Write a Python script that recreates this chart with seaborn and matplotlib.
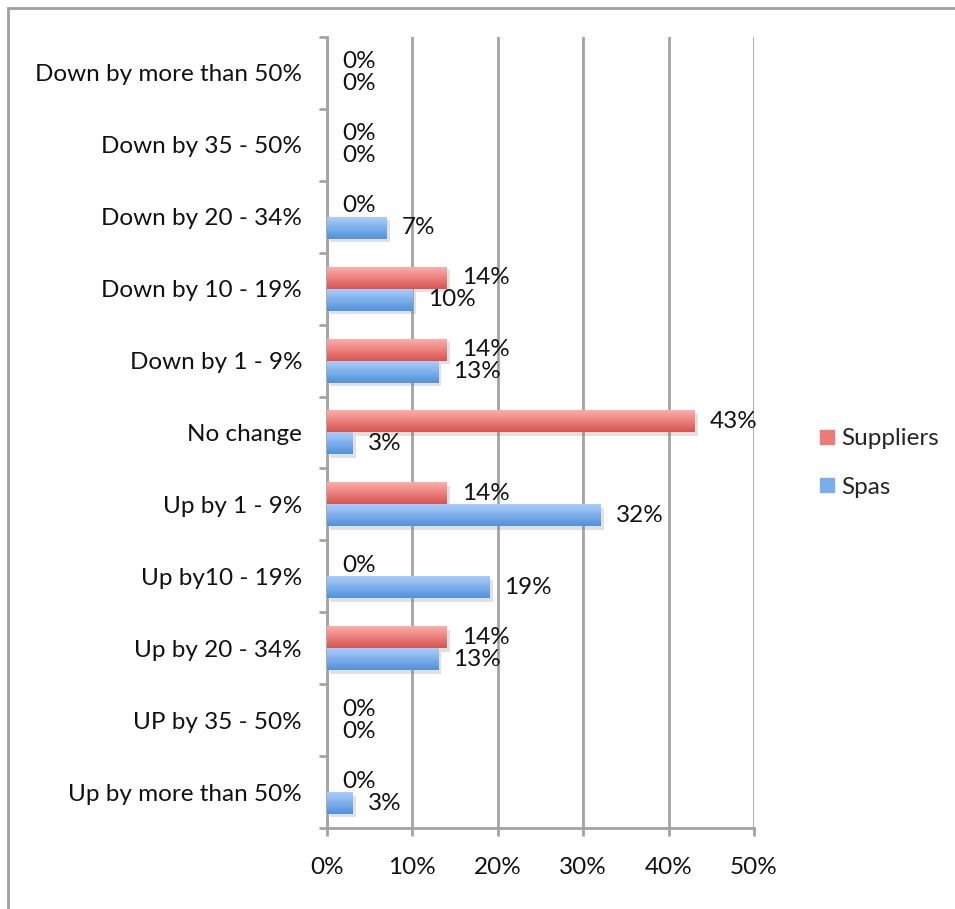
import numpy as np
import pandas as pd
import matplotlib
matplotlib.use("Agg")
import matplotlib.pyplot as plt
import matplotlib.patheffects as pe
from matplotlib.colors import LinearSegmentedColormap
from matplotlib.patches import Rectangle
from matplotlib.lines import Line2D
import seaborn as sns

categories = [
    "Down by more than 50%", "Down by 35 - 50%", "Down by 20 - 34%",
    "Down by 10 - 19%", "Down by 1 - 9%", "No change", "Up by 1 - 9%",
    "Up by10 - 19%", "Up by 20 - 34%", "UP by 35 - 50%", "Up by more than 50%",
]
suppliers = [0, 0, 0, 14, 14, 43, 14, 0, 14, 0, 0]
spas = [0, 0, 7, 10, 13, 3, 32, 19, 13, 0, 3]
series_names = ["Suppliers", "Spas"]
x_ticks = [0, 10, 20, 30, 40, 50]

df = pd.DataFrame({
    "category": categories * 2,
    "series": [series_names[0]] * len(categories) + [series_names[1]] * len(categories),
    "value": suppliers + spas,
})

sns.set_theme(style="white")
plt.rcParams["font.family"] = ["Lato", "DejaVu Sans"]
FS = 17.5

grad = {
    "Suppliers": ("#fbaeab", "#d9534e"),
    "Spas": ("#abcdfa", "#5092dc"),
}
mid = {"Suppliers": "#ec7a76", "Spas": "#79aeea"}

fig = plt.figure(figsize=(9.55, 9.09), dpi=100)
ax = fig.add_axes([327 / 955, 1 - 828 / 909, (754 - 327) / 955, (828 - 37) / 909])

sns.barplot(data=df, x="value", y="category", hue="series", order=categories,
            hue_order=series_names, palette=mid, orient="h", width=0.61,
            gap=0, saturation=1, ax=ax, legend=False, zorder=3, linewidth=0)

ax.set_xlim(0, 50)
ax.set_ylim(len(categories) - 0.5, -0.5)

# gradient fill + soft shadow on each bar
for container, name in zip(ax.containers, series_names):
    cmap = LinearSegmentedColormap.from_list(name, grad[name])
    g = np.linspace(0, 1, 64).reshape(-1, 1)
    for bar in container:
        x0, y0 = bar.get_x(), bar.get_y()
        w, h = bar.get_width(), bar.get_height()
        if w > 0:
            bar.set_path_effects([pe.SimplePatchShadow(offset=(2.5, -2.5), alpha=0.22,
                                                       shadow_rgbFace="#777777"),
                                  pe.Normal()])
            ax.imshow(g, cmap=cmap, aspect="auto", origin="upper",
                      extent=(x0, x0 + w, y0 + h, y0), zorder=4,
                      interpolation="bicubic")
        else:
            bar.set_visible(False)
    labels = [f"{v:g}%" for v in container.datavalues]
    texts = ax.bar_label(container, labels=labels, padding=11, fontsize=FS,
                         color="#111111", zorder=5)

ax.set_xlim(0, 50)
ax.set_ylim(len(categories) - 0.5, -0.5)

# axes styling
grid_c = "#a3a3a3"
ax.set_xticks(x_ticks)
ax.set_xticklabels([f"{t}%" for t in x_ticks], fontsize=FS, color="#111111")
ax.xaxis.grid(True, color=grid_c, linewidth=2, zorder=0)
ax.set_axisbelow(True)
ax.tick_params(axis="x", length=6, width=2, color=grid_c, pad=15, direction="out",
               bottom=True)
ax.set_yticks(range(len(categories)))
ax.set_yticklabels(categories, fontsize=FS, color="#111111")
ax.set_yticks(np.arange(-0.5, len(categories), 1), minor=True)
ax.tick_params(axis="y", which="major", length=0, pad=18)
ax.tick_params(axis="y", which="minor", length=6, width=2, color=grid_c,
               direction="out", left=True)
for s in ["top", "right"]:
    ax.spines[s].set_visible(False)
for s in ["left", "bottom"]:
    ax.spines[s].set_color(grid_c)
    ax.spines[s].set_linewidth(2)
ax.set_xlabel("")
ax.set_ylabel("")

# legend
handles = [Line2D([], [], marker="s", linestyle="none", markersize=10,
                  markerfacecolor=mid[n], markeredgecolor=mid[n]) for n in series_names]
fig.legend(handles, series_names, loc="center left",
           bbox_to_anchor=(795 / 955, 1 - 463 / 909), frameon=False, fontsize=FS,
           handlelength=0.8, handletextpad=0.2, labelspacing=1.15)

# outer chart frame
fig.add_artist(Rectangle((8 / 955, -0.1), 1.2, 1.1 - 8 / 909, transform=fig.transFigure,
                         fill=False, edgecolor="#a0a0a0", linewidth=2))

fig.savefig("out.png", dpi=100)
